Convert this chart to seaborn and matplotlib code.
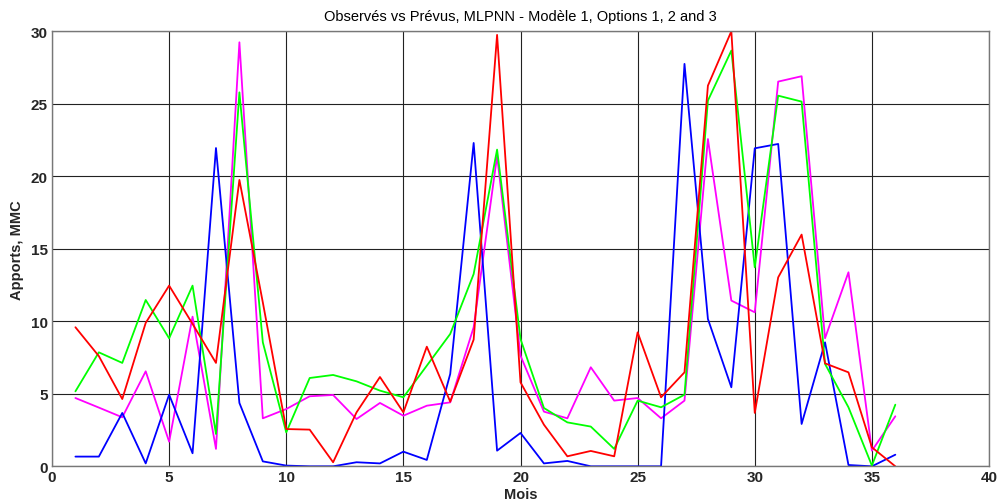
import numpy as np
import pandas as pd
import seaborn as sns
import matplotlib
matplotlib.use("Agg")
import matplotlib.pyplot as plt

months = list(range(1, 37))

observed = [0.67, 0.67, 3.68, 0.2, 4.94, 0.9, 21.95, 4.37, 0.34, 0.05, 0.0, 0.0,
            0.28, 0.2, 1.01, 0.44, 6.37, 22.3, 1.08, 2.3, 0.2, 0.37, 0.0, 0.0,
            0.0, 0.0, 27.75, 10.16, 5.45, 21.93, 22.23, 2.92, 8.55, 0.09, 0.0, 0.8]

option1 = [9.59, 7.6, 4.64, 9.89, 12.46, 9.82, 7.13, 19.75, 11.3, 2.57, 2.53, 0.28,
           3.72, 6.16, 3.72, 8.25, 4.46, 8.74, 29.75, 5.79, 2.87, 0.69, 1.06, 0.69,
           9.24, 4.76, 6.48, 26.25, 30.0, 3.68, 13.03, 15.98, 7.1, 6.48, 1.31, 0.0]

option2 = [5.17, 7.86, 7.13, 11.47, 8.83, 12.46, 2.23, 25.79, 8.55, 2.34, 6.09, 6.3,
           5.86, 5.22, 4.76, 6.94, 9.13, 13.26, 21.84, 8.78, 4.02, 3.03, 2.74, 1.2,
           4.53, 4.07, 4.94, 25.22, 28.67, 13.72, 25.56, 25.15, 7.06, 4.07, 0.05, 4.25]

option3 = [4.71, 4.05, 3.38, 6.55, 1.7, 10.32, 1.2, 29.24, 3.31, 3.95, 4.83, 4.92,
           3.26, 4.37, 3.49, 4.18, 4.41, 9.59, 21.4, 7.63, 3.77, 3.31, 6.83, 4.53,
           4.71, 3.31, 4.53, 22.57, 11.43, 10.62, 26.53, 26.9, 8.83, 13.38, 1.08, 3.45]

series_names = ["Option 3", "Observés", "Option 2", "Option 1"]
series_values = [option3, observed, option2, option1]
colors = {"Observés": "#0000ff", "Option 1": "#ff0000",
          "Option 2": "#00ff00", "Option 3": "#ff00ff"}

df = pd.concat(
    [pd.DataFrame({"Mois": months, "Apports": vals, "Série": name})
     for name, vals in zip(series_names, series_values)],
    ignore_index=True,
)

sns.set_theme(style="white")
plt.rcParams["font.family"] = ["Liberation Sans", "DejaVu Sans"]

fig = plt.figure(figsize=(9.98, 5.02), dpi=100)
ax = fig.add_axes([0.0521, 0.0691, 0.9389, 0.8666])

sns.lineplot(data=df, x="Mois", y="Apports", hue="Série", hue_order=series_names,
             palette=colors, linewidth=1.3, legend=False, ax=ax)

ax.set_xlim(0, 40)
ax.set_ylim(0, 30)
ax.set_xticks(range(0, 41, 5))
ax.set_yticks(range(0, 31, 5))
ax.grid(True, color="#222222", linewidth=0.8)
ax.set_axisbelow(True)
for s in ax.spines.values():
    s.set_color("#777777")
    s.set_linewidth(1.0)
ax.tick_params(direction="in", length=4, width=0.8, color="#444444",
               labelsize=11, pad=3)
for lab in ax.get_xticklabels() + ax.get_yticklabels():
    lab.set_fontweight("bold")

ax.set_title("Observés vs Prévus, MLPNN - Modèle 1, Options 1, 2 and 3",
             fontsize=10.5, pad=8, color="black")
ax.set_xlabel("Mois", fontsize=10.5, fontweight="bold", labelpad=2)
ax.set_ylabel("Apports, MMC", fontsize=10.5, fontweight="bold", labelpad=5)

fig.savefig("out.png", dpi=100, facecolor="white")
